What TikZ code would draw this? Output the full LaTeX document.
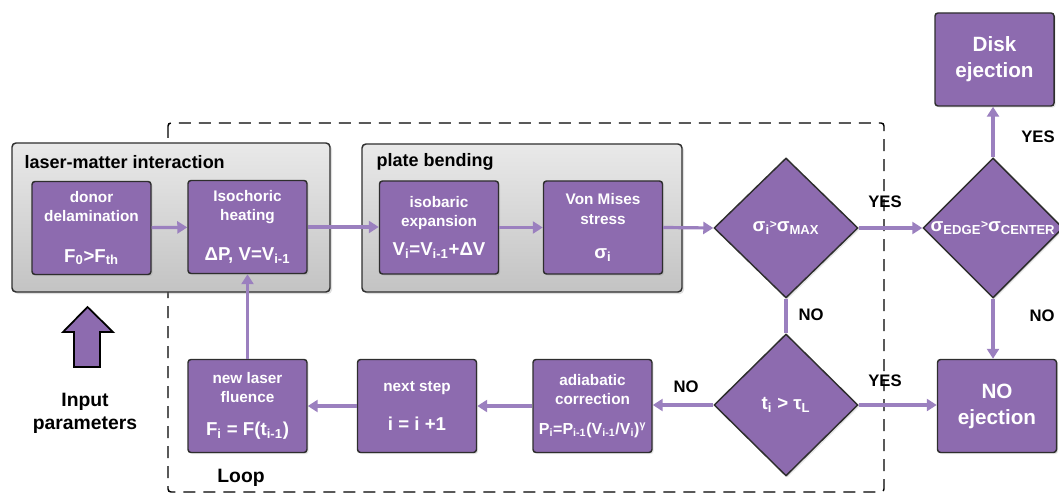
\documentclass[tikz,border=0pt]{standalone}
\usepackage{fontspec}
\setmainfont{Liberation Sans}
\usetikzlibrary{shapes.geometric,arrows.meta,shadows}
\newdimen\pxu \pxu=0.75pt
\definecolor{boxpurple}{HTML}{8D6BAF}
\definecolor{flowpurple}{HTML}{9B80BF}
\definecolor{edgegrey}{HTML}{2E2E2E}
\definecolor{panelhi}{HTML}{E9E9E9}
\definecolor{panello}{HTML}{C3C3C3}
\newcommand\boxtext[3]{#1\\[#2]{\fontsize{14}{17}\selectfont #3}}
\tikzset{
  panel/.style={draw=edgegrey, line width=1.1pt, rounded corners=4\pxu,
    top color=panelhi, bottom color=panello,
    drop shadow={shadow xshift=1.5pt, shadow yshift=-1.5pt, opacity=0.25}},
  stepbox/.style={draw=edgegrey, line width=1.1pt, rounded corners=3\pxu,
    fill=boxpurple, text=white, align=center,
    font=\bfseries\fontsize{11.5}{14.5}\selectfont,
    minimum width=119\pxu, minimum height=93\pxu, inner sep=1pt,
    drop shadow={shadow xshift=1.2pt, shadow yshift=-1.2pt, opacity=0.2}},
  endbox/.style={stepbox, font=\bfseries\fontsize{15.5}{19.5}\selectfont},
  decision/.style={diamond, draw=edgegrey, line width=1.1pt, fill=boxpurple,
    minimum width=144\pxu, minimum height=140\pxu, inner sep=0pt,
    drop shadow={shadow xshift=1.2pt, shadow yshift=-1.2pt, opacity=0.2}},
  dtext/.style={text=white, font=\bfseries\fontsize{14}{17}\selectfont},
  flow/.style={draw=flowpurple, line width=2.4pt,
    -{Triangle[length=7.5pt,width=9pt]}},
  flowline/.style={draw=flowpurple, line width=2.4pt},
  answer/.style={font=\bfseries\fontsize{12.5}{15}\selectfont, text=black},
  paneltitle/.style={font=\bfseries\fontsize{13.5}{16}\selectfont, anchor=west},
  caption/.style={font=\bfseries\fontsize{14.5}{17.5}\selectfont, align=center}
}
\begin{document}
\begin{tikzpicture}[x=\pxu, y=-\pxu]
\useasboundingbox (0,0) rectangle (1059,495);

% iteration loop frame
\draw[line width=1.1pt, dash pattern=on 12\pxu off 8\pxu, rounded corners=3\pxu]
  (168,123) rectangle (884,492);

% grey panels
\draw[panel] (12,143) rectangle (330,292);
\draw[panel] (362,144) rectangle (682,292);
\node[paneltitle] (tlaser) at (20,162) {laser-matter interaction};
\node[paneltitle] (tplate) at (372,162) {plate bending};

% process boxes
\node[stepbox] (donor) at (91.5,228)
  {\boxtext{donor\\delamination}{16pt}{F\textsubscript{0}>F\textsubscript{th}}};
\node[stepbox] (iso) at (247.5,227)
  {\boxtext{Isochoric\\heating}{15.5pt}{ΔP, V=V\textsubscript{i-1}}};
\node[stepbox] (bar) at (439,227.5)
  {\boxtext{isobaric\\expansion}{7.5pt}{V\textsubscript{i}=V\textsubscript{i-1}+ΔV}};
\node[stepbox] (mises) at (603,227.5)
  {\boxtext{Von Mises\\stress}{11pt}{σ\textsubscript{i}}};

\node[stepbox] (laser) at (247.5,406)
  {\boxtext{new laser\\fluence}{10pt}{F\textsubscript{i} = F(t\textsubscript{i-1})}};
\node[stepbox] (next) at (417,406)
  {\boxtext{next step}{15pt}{i = i +1}};
\node[stepbox] (adiab) at (592.5,406)
  {adiabatic\\correction\\[8pt]{\fontsize{12}{14}\selectfont P\textsubscript{i}=P\textsubscript{i-1}(V\textsubscript{i-1}/V\textsubscript{i})\textsuperscript{γ}}};

\node[endbox] (disk) at (994.5,59.5) {Disk\\ejection};
\node[endbox] (noej) at (997,406) {NO\\ejection};

% decisions
\node[decision, label={[dtext]center:{σ\textsubscript{i}\raisebox{.35ex}{\small >}σ\textsubscript{MAX}}}] (smax) at (786,228) {};
\node[decision, minimum width=140\pxu, label={[dtext]center:{σ\textsubscript{EDGE}\raisebox{.35ex}{\small >}σ\textsubscript{CENTER}}}] (sedge) at (993,228) {};
\node[decision, minimum height=142\pxu, label={[dtext]center:{t\textsubscript{i} > τ\textsubscript{L}}}] (tpulse) at (786,405) {};

% input arrow
\draw[fill=boxpurple, draw=black, line width=1.3pt, line join=miter]
  (87.5,307) -- (113,332) -- (100,332) -- (100,367) -- (74,367) -- (74,332) -- (63,332) -- cycle;
\node[caption] (input) at (85,413.5) {Input\\parameters};
\node[caption] (loop) at (241,478) {Loop};

% flow
\draw[flow] (donor) -- (iso);
\draw[flow] (iso.east) -- (bar.west |- iso.east);
\draw[flow] (bar) -- (mises);
\draw[flow] (mises.east) -- (smax.west);
\draw[flow] (smax.east) -- (sedge.west);
\draw[flow] (sedge.north) -- (disk.south -| sedge.north);
\draw[flow] (sedge.south) -- (noej.north -| sedge.south);
\draw[flowline] (smax.south) -- (tpulse.north);
\draw[flow] (tpulse.east) -- (noej.west |- tpulse.east);
\draw[flow] (tpulse.west) -- (adiab.east |- tpulse.west);
\draw[flow] (adiab) -- (next);
\draw[flow] (next) -- (laser);
\draw[flow] (laser) -- (iso);

% branch answers
\node[answer] (yes1) at (885,202) {YES};
\node[answer] (yes2) at (1038,137) {YES};
\node[answer] (no1) at (1042,316) {NO};
\node[answer] (no2) at (811,315) {NO};
\node[answer] (yes3) at (885,381) {YES};
\node[answer] (no3) at (686,387) {NO};
\end{tikzpicture}
\end{document}
